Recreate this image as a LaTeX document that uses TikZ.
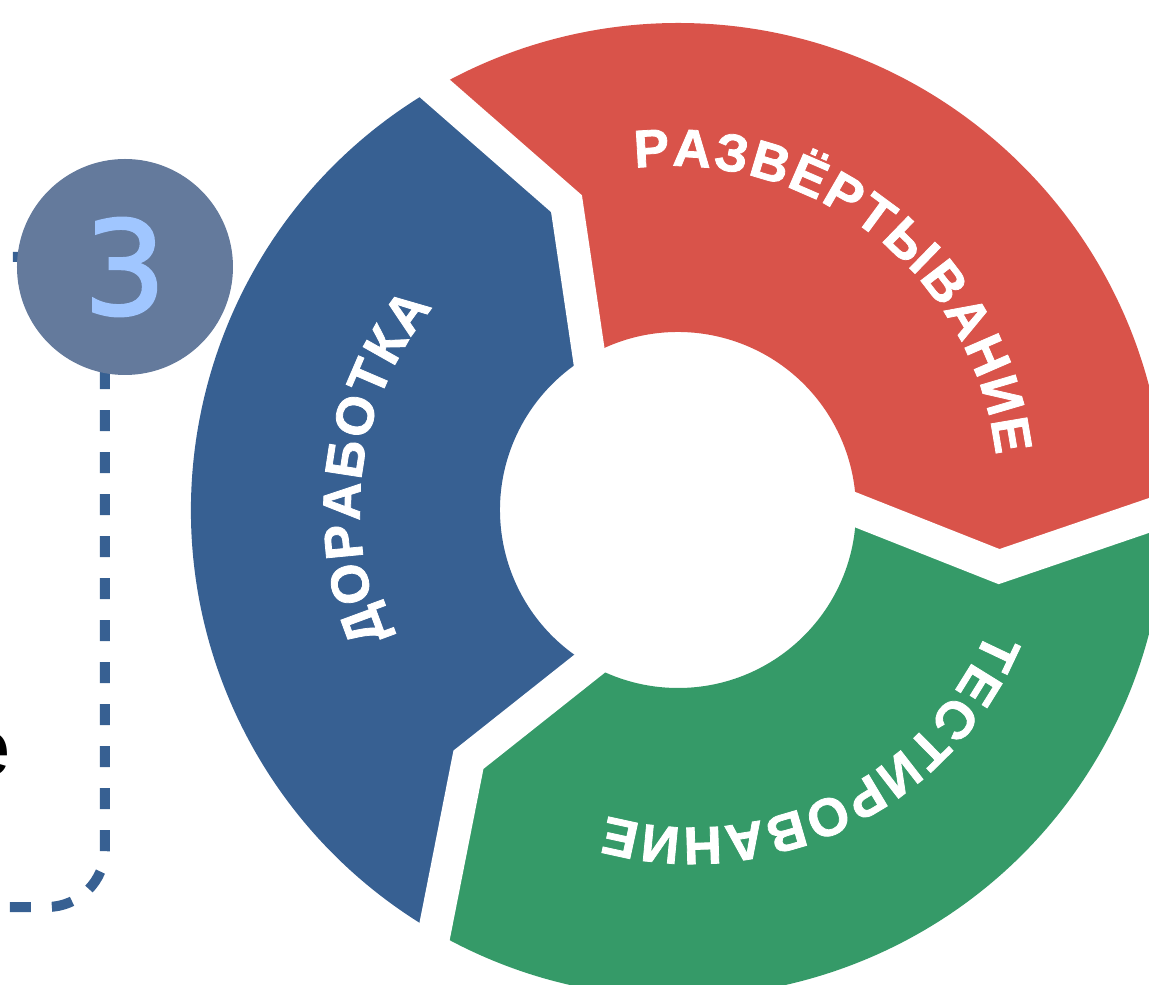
\documentclass[tikz,border=0pt]{standalone}
\usepackage{fontspec}
\newfontfamily\lblfont{Liberation Sans Bold}[FakeBold=1.5]
\newfontfamily\numfont{DejaVu Sans}[FakeBold=2]
\newfontfamily\sidefont{Liberation Sans}
\definecolor{segblue}{HTML}{376092}
\definecolor{segred}{HTML}{D9534A}
\definecolor{seggreen}{HTML}{359A68}
\definecolor{circfill}{HTML}{647A9C}
\definecolor{digitcol}{HTML}{A0C6FF}
\newcommand\ringfmt{\lblfont\fontsize{26.5pt}{30pt}\selectfont}
\newlength\glyphw
% build a list letter/width(pt) for a word, with a little tracking
\newcommand\measureword[2]{%
  \gdef#1{}%
  \foreach \ch in {#2}{%
    \settowidth\glyphw{\ringfmt\ch}%
    \pgfmathsetmacro\wpt{\glyphw+1pt}%
    \ifx#1\empty\xdef#1{\ch/\wpt}\else\xdef#1{#1,\ch/\wpt}\fi}%
}
% set a measured word letter by letter along a circle, clockwise, tops outward
% #1 list macro, #2 baseline radius, #3 centre angle, #4 name prefix
\newcommand\ringword[4]{%
  \gdef\wordsum{0}%
  \foreach \ch/\w in #1 {\pgfmathsetmacro\tmpval{\wordsum+\w}\xdef\wordsum{\tmpval}}%
  \pgfmathsetmacro\tmpval{#3+deg(\wordsum/#2)}\xdef\curang{\tmpval}%
  \foreach \ch/\w [count=\k] in #1 {%
    \pgfmathsetmacro\midang{\curang-deg(\w/#2)}%
    \node[glyph, rotate=\midang-90] (#4\k) at (\midang:#2) {\ch};
    \pgfmathsetmacro\tmpval{\curang-deg(2*\w/#2)}\xdef\curang{\tmpval}}%
}
\begin{document}
\measureword\dorlist{Д,О,Р,А,Б,О,Т,К,А}%
\measureword\razlist{Р,А,З,В,Ё,Р,Т,Ы,В,А,Н,И,Е}%
\measureword\teslist{Т,Е,С,Т,И,Р,О,В,А,Н,И,Е}%
\begin{tikzpicture}[x=0.5pt,y=0.5pt,
  gapline/.style={draw=white, line width=16.5pt, line join=miter,
    shorten <=-40pt, shorten >=-30pt},
  dashline/.style={draw=segblue, line width=5pt, dash pattern=on 10.5pt off 10.5pt},
  glyph/.style={anchor=base, inner sep=0pt, text=white, font=\ringfmt},
]
\useasboundingbox (-678,-474) rectangle (471,510);
\clip (-678,-474) rectangle (471,510);

% dashed leader running behind the step badge
\coordinate (dA) at (-665,253);
\coordinate (dB) at (-655,253);
\coordinate (dC) at (-573,-339);
\coordinate (dD) at (-700,-397);
\draw[dashline] (dA) -- (dB) arc[start angle=90, end angle=0, radius=82]
  -- (dC) arc[start angle=0, end angle=-90, radius=58] -- (dD);

% three chevron segments of the ring (inner radius 178, outer 487)
\fill[segblue] (240:178) arc[start angle=240, end angle=120, radius=178]
  -- (110:326) -- (120:487) arc[start angle=120, end angle=240, radius=487]
  -- (230:326) -- cycle;
\fill[segred] (120:178) arc[start angle=120, end angle=0, radius=178]
  -- (-10:326) -- (0:487) arc[start angle=0, end angle=120, radius=487]
  -- (110:326) -- cycle;
\fill[seggreen] (0:178) arc[start angle=0, end angle=-120, radius=178]
  -- (-130:326) -- (-120:487) arc[start angle=-120, end angle=0, radius=487]
  -- (-10:326) -- cycle;

% white gaps between the segments
\draw[gapline] (120:178) -- (110:326) -- (120:487);
\draw[gapline] (0:178) -- (-10:326) -- (0:487);
\draw[gapline] (-120:178) -- (-130:326) -- (-120:487);

% curved labels
\ringword\dorlist{318}{172}{dor}
\begin{scope}[shift={(-6,18)}]
  \ringword\razlist{326}{51.5}{raz}
\end{scope}
\begin{scope}[shift={(14,2.5)}]
  \ringword\teslist{320}{-64}{tes}
\end{scope}

% step badge
\node[circle, fill=circfill, minimum size=108pt, inner sep=0pt, text=digitcol,
  font=\numfont\fontsize{65pt}{65pt}\selectfont] (badge) at (-553,243) {3};

% text running in from the left edge
\node[anchor=east, inner sep=0pt, font=\sidefont\fontsize{40pt}{40pt}\selectfont]
  (side) at (-667,-244) {e};
\end{tikzpicture}
\end{document}
